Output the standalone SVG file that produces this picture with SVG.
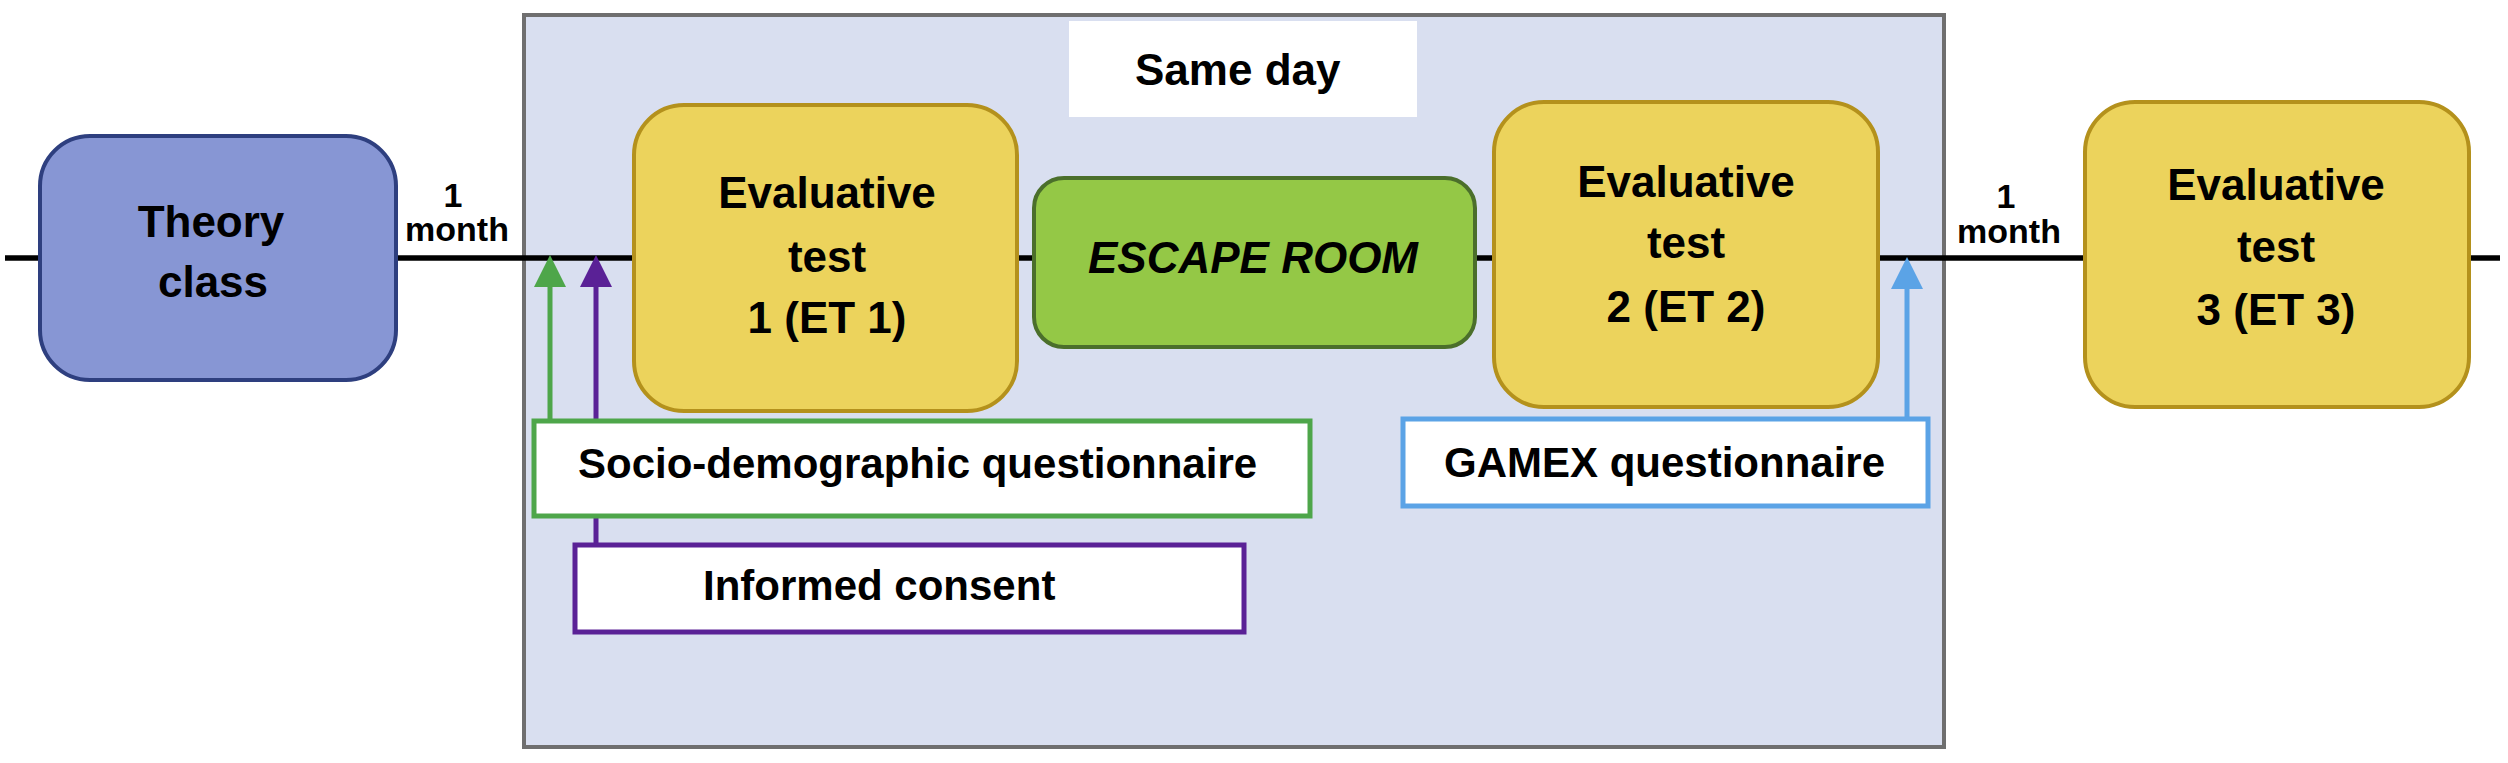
<svg xmlns="http://www.w3.org/2000/svg" width="2508" height="763" viewBox="0 0 2508 763">
<style>
text{font-family:"Liberation Sans",Arial,sans-serif;font-weight:bold;fill:#000}
.nt{font-size:44px;text-anchor:middle}
.lt{font-size:42px}
.mo{font-size:34px;text-anchor:middle}
.yel{fill:#ecd35c;stroke:#b4911c;stroke-width:4}
.ln{stroke:#000;stroke-width:5.5;fill:none}
</style>
<defs>
<marker id="hg" viewBox="0 -16 32 32" refX="0" refY="0" markerWidth="32" markerHeight="32" markerUnits="userSpaceOnUse" orient="auto"><path d="M0,-16 L32,0 L0,16 z" fill="#4ea64a"/></marker>
<marker id="hp" viewBox="0 -16 32 32" refX="0" refY="0" markerWidth="32" markerHeight="32" markerUnits="userSpaceOnUse" orient="auto"><path d="M0,-16 L32,0 L0,16 z" fill="#5a2196"/></marker>
<marker id="hb" viewBox="0 -16 32 32" refX="0" refY="0" markerWidth="32" markerHeight="32" markerUnits="userSpaceOnUse" orient="auto"><path d="M0,-16 L32,0 L0,16 z" fill="#5ba3e6"/></marker>
</defs>
<rect width="2508" height="763" fill="#fff"/>
<g id="same-day-frame">
<rect x="524" y="15" width="1420" height="732" fill="#d9dff0" stroke="#6f6f6f" stroke-width="4"/>
<rect x="1069" y="21" width="348" height="96" fill="#fff"/>
<text class="lt" x="1135" y="85" style="font-size:44px">Same day</text>
</g>
<g id="connectors">
<line class="ln" x1="5" y1="258" x2="40" y2="258"/>
<line class="ln" x1="396" y1="258" x2="633" y2="258"/>
<line class="ln" x1="1017" y1="258" x2="1033" y2="258"/>
<line class="ln" x1="1475" y1="258" x2="1494" y2="258"/>
<line class="ln" x1="1878" y1="258" x2="2084" y2="258"/>
<line class="ln" x1="2469" y1="258" x2="2500" y2="258"/>
<path d="M596,545 V287" stroke="#5a2196" stroke-width="5" fill="none" marker-end="url(#hp)"/>
<path d="M550,420 V287" stroke="#4ea64a" stroke-width="5" fill="none" marker-end="url(#hg)"/>
<path d="M1907,419 V289" stroke="#5ba3e6" stroke-width="5" fill="none" marker-end="url(#hb)"/>
<text class="mo" x="453" y="207">1</text>
<text class="mo" x="457" y="241">month</text>
<text class="mo" x="2006" y="208">1</text>
<text class="mo" x="2009" y="243">month</text>
</g>
<g id="theory-class">
<rect x="40" y="136" width="356" height="244" rx="50" fill="#8796d4" stroke="#2e3f7f" stroke-width="4"/>
<text class="nt" x="211" y="237">Theory</text>
<text class="nt" x="213" y="297">class</text>
</g>
<g id="et1">
<rect class="yel" x="634" y="105" width="383" height="306" rx="50"/>
<text class="nt" x="827" y="208">Evaluative</text>
<text class="nt" x="827" y="272">test</text>
<text class="nt" x="827" y="333">1 (ET 1)</text>
</g>
<g id="escape-room">
<rect x="1034" y="178" width="441" height="169" rx="30" fill="#94c846" stroke="#4b6f2b" stroke-width="4"/>
<text class="nt" x="1253" y="273" style="font-style:italic">ESCAPE ROOM</text>
</g>
<g id="et2">
<rect class="yel" x="1494" y="102" width="384" height="305" rx="50"/>
<text class="nt" x="1686" y="197">Evaluative</text>
<text class="nt" x="1686" y="258">test</text>
<text class="nt" x="1686" y="322">2 (ET 2)</text>
</g>
<g id="et3">
<rect class="yel" x="2085" y="102" width="384" height="305" rx="50"/>
<text class="nt" x="2276" y="200">Evaluative</text>
<text class="nt" x="2276" y="262">test</text>
<text class="nt" x="2276" y="325">3 (ET 3)</text>
</g>
<g id="socio">
<rect x="534" y="421" width="776" height="95" fill="#fff" stroke="#4ea64a" stroke-width="5"/>
<text class="lt" x="578" y="478">Socio-demographic questionnaire</text>
</g>
<g id="consent">
<rect x="575" y="545" width="669" height="87" fill="#fff" stroke="#5a2196" stroke-width="5"/>
<text class="lt" x="703" y="600">Informed consent</text>
</g>
<g id="gamex">
<rect x="1403" y="419" width="525" height="87" fill="#fff" stroke="#5ba3e6" stroke-width="5"/>
<text class="lt" x="1444" y="477">GAMEX questionnaire</text>
</g>
</svg>
